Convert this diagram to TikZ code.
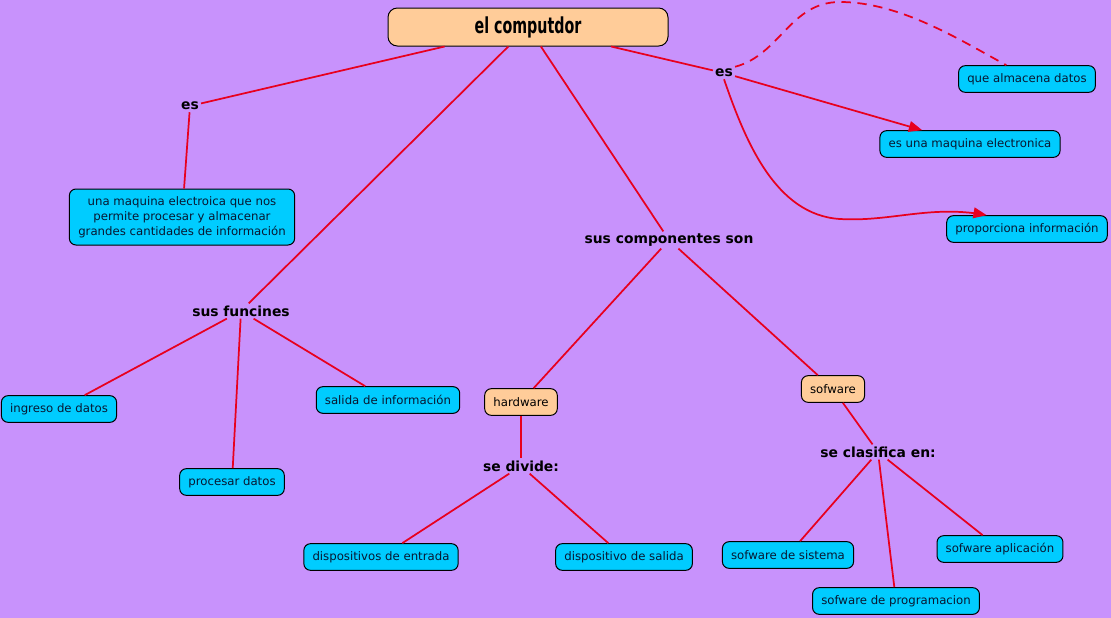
\documentclass[tikz,border=0pt]{standalone}
\usepackage{fontspec}
\setmainfont{DejaVu Sans}
\newfontfamily\titlefont{DejaVu Sans Condensed}
\usepackage{graphicx}
\usepackage{tikz}
\usetikzlibrary{shapes}
\usetikzlibrary{arrows}
\usetikzlibrary{calc}
\definecolor{fondo}{RGB}{200,146,252}
\definecolor{celeste}{RGB}{0,204,255}
\definecolor{durazno}{RGB}{255,204,153}
\definecolor{rojo}{RGB}{232,0,30}
\definecolor{tinta}{RGB}{8,24,50}

\begin{document}
\begin{tikzpicture}[x=0.75pt,y=-0.75pt]
\tikzstyle{concept}=[draw=black,line width=0.75pt,fill=celeste,rounded corners=5pt,text=tinta,font=\fontsize{8.8}{11.25}\selectfont,inner xsep=6.5pt,minimum height=20pt]
\tikzstyle{part}=[concept,fill=durazno,text=black]
\tikzstyle{linkword}=[font=\bfseries\fontsize{10.4}{12}\selectfont,inner sep=1.5pt]
\tikzstyle{link}=[draw=rojo,line width=1.3pt]
\fill[fondo] (0,0) rectangle (1111,618);
\useasboundingbox (0,0) rectangle (1111,618);
\node[part,minimum width=210pt,minimum height=28.5pt,rounded corners=7pt,font=\titlefont\bfseries\fontsize{16.5}{18}\selectfont] (computador) at (528,27) {\scalebox{0.72}[1]{el computdor}};
% lado izquierdo
\node[linkword] (es1) at (190,106) {es};
\node[concept,align=center,minimum width=169pt,minimum height=42pt] (definicion) at (182,217) {una maquina electroica que nos\\permite procesar y almacenar\\grandes cantidades de información};
\node[linkword] (funciones) at (241,311) {sus funcines};
\node[concept] (ingreso) at (59,409) {ingreso de datos};
\node[concept] (procesar) at (232,482) {procesar datos};
\node[concept] (salida) at (388,400) {salida de información};
% componentes
\node[linkword] (componentes) at (669,240) {sus componentes son};
\node[part] (hardware) at (521,402) {hardware};
\node[linkword] (divide) at (521,466) {se divide:};
\node[concept] (entrada) at (381,557) {dispositivos de entrada};
\node[concept] (dsalida) at (624,557) {dispositivo de salida};
\node[part] (software) at (833,389) {sofware};
\node[linkword] (clasifica) at (878,452) {se clasifica en:};
\node[concept] (sistema) at (788,555) {sofware de sistema};
\node[concept] (programacion) at (896,601) {sofware de programacion};
\node[concept] (aplicacion) at (1000,549) {sofware aplicación};
% lado derecho
\node[linkword] (es2) at (724,73) {es};
\node[concept] (almacena) at (1027,79) {que almacena datos};
\node[concept] (maquina) at (970,144) {es una maquina electronica};
\node[concept] (proporciona) at (1027,229) {proporciona información};

\draw[link] (computador) -- (es1);
\draw[link] (es1) -- (definicion);
\draw[link] (computador) -- (funciones);
\draw[link] (funciones) -- (ingreso);
\draw[link] (funciones) -- (procesar);
\draw[link] (funciones) -- (salida);
\draw[link] (computador) -- (componentes);
\draw[link] (componentes) -- (hardware);
\draw[link] (componentes) -- (software);
\draw[link] (hardware) -- (divide);
\draw[link] (divide) -- (entrada);
\draw[link] (divide) -- (dsalida);
\draw[link] (software) -- (clasifica);
\draw[link] (clasifica) -- (sistema);
\draw[link] (clasifica) -- (programacion);
\draw[link] (clasifica) -- (aplicacion);
\draw[link] (computador) -- (es2);
\draw[link,-triangle 45] (es2) -- (maquina);
\draw[link,-triangle 45] (es2.south) .. controls (745,140) and (775,215) .. (840,219) .. controls (890,222) and (930,205) .. ($(proporciona.north)!0.5!(proporciona.north west)$);
\draw[link,dashed,dash pattern=on 7pt off 5pt] (es2.north east) .. controls (780,55) and (790,2) .. (840,2) .. controls (900,2) and (960,40) .. ($(almacena.north)!0.3!(almacena.north west)$);
\end{tikzpicture}
\end{document}
